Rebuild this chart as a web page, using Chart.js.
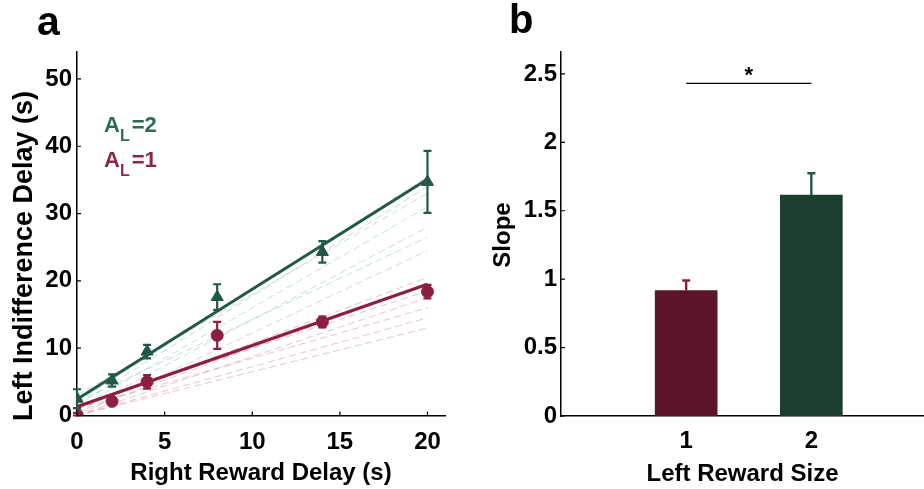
<!DOCTYPE html>
<html>
<head>
<meta charset="utf-8">
<script src="https://cdn.jsdelivr.net/npm/chart.js@4.4.1/dist/chart.umd.min.js"></script>
<style>
  body { margin: 0; background: #fff; width: 924px; height: 489px; overflow: hidden; position: relative; }
  #wrapA { position: absolute; left: 0; top: 0; width: 470px; height: 489px; }
  #wrapB { position: absolute; left: 470px; top: 0; width: 454px; height: 489px; }
</style>
</head>
<body>
<div id="wrapA"><canvas id="chartA"></canvas></div>
<div id="wrapB"><canvas id="chartB"></canvas></div>
<script>
// panel a: indifference delays
const delays = [0, 2, 4, 8, 14, 20];
const meanA2 = [2.5, 5.2, 9.5, 17.6, 24.3, 34.7];
const errA2 = [1.4, 0.9, 1.0, 1.9, 1.6, 4.6];
const meanA1 = [0.1, 2.1, 5.0, 11.9, 13.9, 18.4];
const errA1 = [0.3, 0.3, 1.0, 2.0, 0.8, 1.0];
const fitX = [0, 20];
const fitA2 = [2.4, 35.1];
const fitA1 = [1.3, 19.5];
// single-subject fits, value at x=0 and x=20
const subjA2 = [[2, 35.5], [1.5, 34], [3, 33], [1, 31], [0.5, 28], [2, 26.5], [0, 24.5]];
const subjA1 = [[1, 20.5], [0.5, 19.5], [1.5, 18.5], [0, 17.5], [1, 16], [0, 14.5], [0, 13]];
const xTicksA = [0, 5, 10, 15, 20];
const yTicksA = [0, 10, 20, 30, 40, 50];

// panel b: slopes
const sizes = [1, 2];
const slopes = [0.916, 1.615];
const slopeErr = [0.074, 0.159];
const sigPair = [1, 2];
const sigLevel = 2.43;
const yTicksB = [0, 0.5, 1, 1.5, 2, 2.5];

const green = '#22574a';
const red = '#8c1f40';
const FONT = '"Liberation Sans", Arial, sans-serif';

Chart.defaults.font.family = FONT;
Chart.defaults.font.weight = 'bold';
Chart.defaults.color = '#000';
Chart.defaults.animation = false;

function vTitle(ctx, text, x, y, size) {
  ctx.save();
  ctx.translate(x, y);
  ctx.rotate(-Math.PI / 2);
  ctx.fillStyle = '#000';
  ctx.font = 'bold ' + size + 'px ' + FONT;
  ctx.textAlign = 'center';
  ctx.textBaseline = 'middle';
  ctx.fillText(text, 0, 0);
  ctx.restore();
}

// small inward tick marks, matlab style
function inwardTicks(showX) {
  return {
    id: 'inwardTicks',
    afterDraw(chart) {
      const ctx = chart.ctx, a = chart.chartArea;
      const xs = chart.scales.x, ys = chart.scales.y;
      ctx.save();
      ctx.strokeStyle = '#000';
      ctx.lineWidth = 1.2;
      ctx.beginPath();
      ys.ticks.forEach(t => {
        const y = ys.getPixelForValue(t.value);
        ctx.moveTo(a.left, y); ctx.lineTo(a.left + 4, y);
      });
      if (showX) {
        xs.ticks.forEach(t => {
          const x = xs.getPixelForValue(t.value);
          ctx.moveTo(x, a.bottom); ctx.lineTo(x, a.bottom - 4);
        });
      }
      ctx.stroke();
      ctx.restore();
    }
  };
}

const errorsA = {
  id: 'errorsA',
  afterDatasetsDraw(chart) {
    const ctx = chart.ctx, xs = chart.scales.x, ys = chart.scales.y;
    const draw = (means, errs, color) => {
      ctx.strokeStyle = color;
      ctx.lineWidth = 2.2;
      ctx.beginPath();
      delays.forEach((d, i) => {
        const x = xs.getPixelForValue(d);
        const lo = ys.getPixelForValue(Math.max(0, means[i] - errs[i]));
        const hi = ys.getPixelForValue(means[i] + errs[i]);
        ctx.moveTo(x, lo); ctx.lineTo(x, hi);
        ctx.moveTo(x - 4, lo); ctx.lineTo(x + 4, lo);
        ctx.moveTo(x - 4, hi); ctx.lineTo(x + 4, hi);
      });
      ctx.stroke();
    };
    ctx.save();
    draw(meanA2, errA2, green);
    draw(meanA1, errA1, red);
    ctx.restore();
  }
};

const labelsA = {
  id: 'labelsA',
  afterDraw(chart) {
    const ctx = chart.ctx;
    ctx.save();
    ctx.textBaseline = 'alphabetic';
    ctx.fillStyle = '#000';
    ctx.font = 'bold 41px ' + FONT;
    ctx.fillText('a', 37, 35);
    const legend = [['2', '#2b6a57', 132], ['1', '#8b2745', 167]];
    legend.forEach(([n, c, base]) => {
      ctx.fillStyle = c;
      ctx.font = 'bold 22px ' + FONT;
      ctx.fillText('A', 104, base);
      let w = ctx.measureText('A').width;
      ctx.font = 'bold 16px ' + FONT;
      ctx.fillText('L', 104 + w, base + 9);
      w += ctx.measureText('L').width;
      ctx.font = 'bold 22px ' + FONT;
      ctx.fillText('=' + n, 106 + w, base);
    });
    ctx.restore();
    vTitle(ctx, 'Left Indifference Delay (s)', 25, 256, 27);
  }
};

const subjSets = [];
subjA2.forEach((s, i) => subjSets.push({
  type: 'line', data: fitX.map((x, j) => ({ x: x, y: s[j] })),
  borderColor: i % 2 ? 'rgba(110,185,195,0.45)' : 'rgba(120,170,160,0.4)',
  borderWidth: 1, borderDash: [7, 4], pointRadius: 0, order: 10
}));
subjA1.forEach((s, i) => subjSets.push({
  type: 'line', data: fitX.map((x, j) => ({ x: x, y: s[j] })),
  borderColor: i % 2 ? 'rgba(215,95,150,0.4)' : 'rgba(190,80,120,0.35)',
  borderWidth: 1, borderDash: [7, 4], pointRadius: 0, order: 10
}));

new Chart(document.getElementById('chartA'), {
  type: 'scatter',
  data: {
    datasets: subjSets.concat([
      { type: 'line', data: fitX.map((x, i) => ({ x: x, y: fitA2[i] })), borderColor: green, borderWidth: 3, pointRadius: 0, order: 5 },
      { type: 'line', data: fitX.map((x, i) => ({ x: x, y: fitA1[i] })), borderColor: red, borderWidth: 3.2, pointRadius: 0, order: 5 },
      { data: delays.map((x, i) => ({ x: x, y: meanA2[i] })), pointStyle: 'triangle', pointRadius: 7, backgroundColor: green, borderColor: green, order: 1 },
      { data: delays.map((x, i) => ({ x: x, y: meanA1[i] })), pointStyle: 'circle', pointRadius: 6, backgroundColor: red, borderColor: red, order: 1 }
    ])
  },
  options: {
    responsive: true,
    maintainAspectRatio: false,
    events: [],
    layout: { padding: { top: 52, right: 25, left: 0, bottom: 0 } },
    plugins: { legend: { display: false }, tooltip: { enabled: false } },
    scales: {
      x: {
        type: 'linear', min: 0, max: 21,
        afterBuildTicks: s => { s.ticks = xTicksA.map(v => ({ value: v })); },
        afterFit: s => { s.height = 73.5; },
        grid: { display: false, drawTicks: false },
        border: { color: '#000', width: 1.5 },
        ticks: { padding: 12, font: { size: 24, weight: 'bold' } },
        title: { display: true, text: 'Right Reward Delay (s)', font: { size: 24, weight: 'bold' }, padding: { top: 0, bottom: 1 } }
      },
      y: {
        min: 0, max: 54,
        afterBuildTicks: s => { s.ticks = yTicksA.map(v => ({ value: v })); },
        afterFit: s => { s.width = 77; },
        grid: { display: false, drawTicks: false },
        border: { color: '#000', width: 1.5 },
        ticks: { padding: 5, font: { size: 24, weight: 'bold' } }
      }
    }
  },
  plugins: [errorsA, inwardTicks(true), labelsA]
});

const extrasB = {
  id: 'extrasB',
  afterDatasetsDraw(chart) {
    const ctx = chart.ctx, xs = chart.scales.x, ys = chart.scales.y;
    const colors = [red, green];
    ctx.save();
    ctx.lineWidth = 2.4;
    sizes.forEach((s, i) => {
      const x = xs.getPixelForValue(s);
      const y0 = ys.getPixelForValue(slopes[i]);
      const y1 = ys.getPixelForValue(slopes[i] + slopeErr[i]);
      ctx.strokeStyle = colors[i];
      ctx.beginPath();
      ctx.moveTo(x, y0); ctx.lineTo(x, y1);
      ctx.moveTo(x - 4, y1); ctx.lineTo(x + 4, y1);
      ctx.stroke();
    });
    // significance bar
    const xa = xs.getPixelForValue(sigPair[0]), xb = xs.getPixelForValue(sigPair[1]);
    const ys0 = ys.getPixelForValue(sigLevel);
    ctx.strokeStyle = '#000';
    ctx.lineWidth = 1.3;
    ctx.beginPath(); ctx.moveTo(xa, ys0); ctx.lineTo(xb, ys0); ctx.stroke();
    ctx.fillStyle = '#000';
    ctx.font = 'bold 22px ' + FONT;
    ctx.textAlign = 'center';
    ctx.fillText('*', (xa + xb) / 2, ys0 - 1);
    ctx.textAlign = 'left';
    ctx.font = 'bold 40px ' + FONT;
    ctx.fillText('b', 39, 33);
    ctx.restore();
    vTitle(ctx, 'Slope', 33, 235, 24);
  }
};

new Chart(document.getElementById('chartB'), {
  type: 'bar',
  data: {
    datasets: [{
      data: sizes.map((x, i) => ({ x: x, y: slopes[i] })),
      backgroundColor: ['#5e1527', '#1b3f2c'],
      barThickness: 62
    }]
  },
  options: {
    responsive: true,
    maintainAspectRatio: false,
    events: [],
    layout: { padding: { top: 52, right: 0, left: 0, bottom: 0 } },
    plugins: { legend: { display: false }, tooltip: { enabled: false } },
    scales: {
      x: {
        type: 'linear', min: 0, max: 2.9, offset: false,
        afterBuildTicks: s => { s.ticks = sizes.map(v => ({ value: v })); },
        afterFit: s => { s.height = 73; },
        grid: { display: false, drawTicks: false, offset: false },
        border: { color: '#000', width: 1.5 },
        ticks: { padding: 11, font: { size: 24, weight: 'bold' } },
        title: { display: true, text: 'Left Reward Size', font: { size: 24, weight: 'bold' }, padding: { top: 0, bottom: 0 } }
      },
      y: {
        min: 0, max: 2.66,
        afterBuildTicks: s => { s.ticks = yTicksB.map(v => ({ value: v })); },
        afterFit: s => { s.width = 91; },
        grid: { display: false, drawTicks: false },
        border: { color: '#000', width: 1.5 },
        ticks: { padding: 4, font: { size: 24, weight: 'bold' }, callback: v => String(v) }
      }
    }
  },
  plugins: [extrasB, inwardTicks(false)]
});
</script>
</body>
</html>
